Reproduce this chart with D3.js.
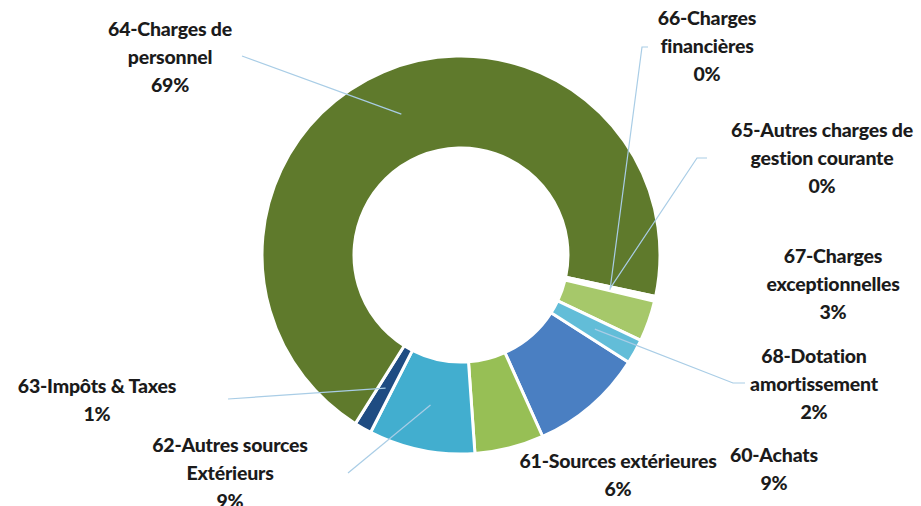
<!DOCTYPE html>
<html>
<head>
<meta charset="utf-8">
<script src="https://cdn.jsdelivr.net/npm/d3@7"></script>
<style>
  body { margin: 0; background: #fff; }
  svg { display: block; }
  .lbl { font-family: Lato, "Open Sans", sans-serif; font-weight: 900; font-size: 19.5px; fill: #1b1b1b; letter-spacing: -0.2px; }
</style>
</head>
<body>
<div id="donut-chart"></div>
<script>
// categories in Excel order (clockwise)
const categories = ["60-Achats", "61-Sources extérieures", "62-Autres sources Extérieurs", "63-Impôts & Taxes",
    "64-Charges de personnel", "65-Autres charges de gestion courante", "66-Charges financières",
    "67-Charges exceptionnelles", "68-Dotation amortissement"];

// shares (percent)
const values = [9.2, 5.6, 8.6, 1.4, 69.3, 0.2, 0.2, 3.3, 2.0];

// how each label is broken into lines
const labelLines = [
    ["60-Achats"],
    ["61-Sources extérieures"],
    ["62-Autres sources", "Extérieurs"],
    ["63-Impôts & Taxes"],
    ["64-Charges de", "personnel"],
    ["65-Autres charges de", "gestion courante"],
    ["66-Charges", "financières"],
    ["67-Charges", "exceptionnelles"],
    ["68-Dotation", "amortissement"]
];

const colors = ["#4a7fc2", "#97bf55", "#42aecf", "#1f4c82", "#5f7a2c", "#5f7a2c", "#5f7a2c", "#a6c86a", "#62bdd8"];

// label placement (first line centre) and leader line anchors near the label
const labelPos = [[774, 457], [618, 463], [230, 447], [97, 388], [170, 31], [822, 132], [707, 20], [833, 258], [814, 358]];
const leaderStart = [null, null, [348, 473], [228, 399], [242, 56], [707, 158], [648, 47], null, [745, 383]];
const leaderElbow = [null, null, null, null, null, [697, 158], [642, 47], null, [733, 383]];

const width = 921,
    height = 506,
    cx = 461, cy = 255,
    outerR = 199, innerR = 107;

let svg = d3.select("#donut-chart")
    .append("svg")
    .attr("width", width)
    .attr("height", height);

const total = d3.sum(values);

let pie = d3.pie()
    .sort(null)
    .value(d => d)
    .startAngle(122.6 * Math.PI / 180)
    .endAngle(122.6 * Math.PI / 180 + 2 * Math.PI);

let arc = d3.arc()
    .innerRadius(innerR)
    .outerRadius(outerR);

const arcs = pie(values);

let g = svg.append("g")
    .attr("transform", `translate(${cx},${cy})`);

g.selectAll("path")
    .data(arcs)
    .join("path")
    .attr("d", arc)
    .attr("fill", (d, i) => colors[i])
    .attr("stroke", "#fff")
    .attr("stroke-width", 3)
    .attr("stroke-linejoin", "round");

// leader lines, from label to slice centroid
arcs.forEach((d, i) => {
    if (!leaderStart[i]) return;
    const c = arc.centroid(d);
    const pts = [leaderStart[i]];
    if (leaderElbow[i]) pts.push(leaderElbow[i]);
    pts.push([c[0] + cx, c[1] + cy]);
    svg.append("path")
        .attr("d", d3.line()(pts))
        .attr("fill", "none")
        .attr("stroke", "#a9cde6")
        .attr("stroke-width", 1.2);
});

// labels
categories.forEach((name, i) => {
    const pct = Math.round(values[i] / total * 100) + "%";
    const lines = labelLines[i].concat([pct]);
    let t = svg.append("text")
        .attr("class", "lbl")
        .attr("text-anchor", "middle")
        .attr("x", labelPos[i][0])
        .attr("y", labelPos[i][1])
        .attr("dominant-baseline", "middle");
    lines.forEach((s, k) => {
        t.append("tspan")
            .attr("x", labelPos[i][0])
            .attr("dy", k === 0 ? 0 : 28)
            .text(s);
    });
});
</script>
</body>
</html>
